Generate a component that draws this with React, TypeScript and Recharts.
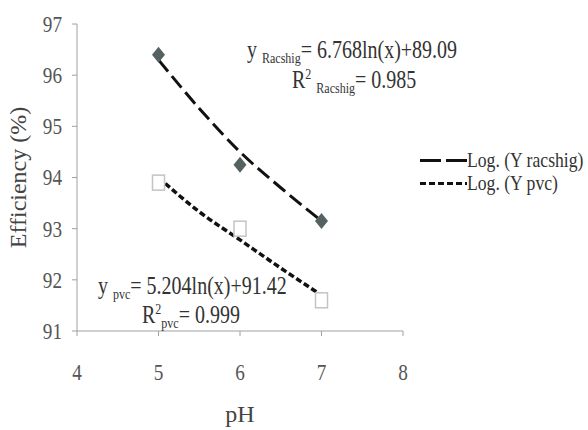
import React from "react";
import {
  ComposedChart,
  Line,
  Scatter,
  XAxis,
  YAxis,
  Label,
} from "recharts";

// ---- data ----
const phValues = [5, 6, 7];
const raschigEff = [96.4, 94.25, 93.15];
const pvcEff = [93.9, 93.0, 91.6];

// trend lines (log fits), sampled from the drawn curves
const trendPh = [5, 5.5, 6, 6.5, 7];
const raschigTrend = [96.3, 95.35, 94.5, 93.8, 93.15];
const pvcTrend = [94.0, 93.33, 92.78, 92.23, 91.7];

const xTicks = [4, 5, 6, 7, 8];
const yTicks = [91, 92, 93, 94, 95, 96, 97];

const legendItems = [
  { label: "Log. (Y racshig)", dash: "21 5" },
  { label: "Log. (Y pvc)", dash: "6 3" },
];

const FONT = "'Liberation Serif', 'Times New Roman', serif";
const SQ = 0.8; // text in the source image is horizontally squeezed

const raschigPts = phValues.map((x, i) => ({ x, y: raschigEff[i] }));
const pvcPts = phValues.map((x, i) => ({ x, y: pvcEff[i] }));
const raschigLine = trendPh.map((x, i) => ({ x, y: raschigTrend[i] }));
const pvcLine = trendPh.map((x, i) => ({ x, y: pvcTrend[i] }));

const squeeze = (x: number) =>
  `translate(${x},0) scale(${SQ},1) translate(${-x},0)`;

const XTick = (props: any) => {
  const { x, y, payload } = props;
  return (
    <text
      x={x}
      y={y}
      dy={17}
      textAnchor="middle"
      transform={squeeze(x)}
      fill="#555"
      fontSize={24}
      fontFamily={FONT}
    >
      {payload.value}
    </text>
  );
};

const YTick = (props: any) => {
  const { x, y, payload } = props;
  return (
    <text
      x={x}
      y={y}
      dy={8}
      textAnchor="end"
      transform={squeeze(x)}
      fill="#555"
      fontSize={24}
      fontFamily={FONT}
    >
      {payload.value}
    </text>
  );
};

const Diamond = (props: any) => {
  const { cx, cy } = props;
  return (
    <path
      d={`M${cx},${cy - 8} L${cx + 6.5},${cy} L${cx},${cy + 8} L${cx - 6.5},${cy} Z`}
      fill="#566262"
    />
  );
};

const Square = (props: any) => {
  const { cx, cy } = props;
  return (
    <rect
      x={cx - 6}
      y={cy - 7.5}
      width={12}
      height={15}
      fill="#fff"
      stroke="#c4c4c4"
      strokeWidth={1.5}
    />
  );
};

const txt: React.CSSProperties = {
  position: "absolute",
  fontFamily: FONT,
  fontSize: 25,
  color: "#333",
  whiteSpace: "nowrap",
  transform: `scaleX(${SQ})`,
  transformOrigin: "left center",
  lineHeight: 1,
};
const sub: React.CSSProperties = { fontSize: 15, verticalAlign: -5 };
const sup: React.CSSProperties = { fontSize: 15, verticalAlign: 9 };

export default function App() {
  return (
    <div
      style={{
        position: "absolute",
        left: 0,
        top: 0,
        width: 588,
        height: 430,
        background: "#fff",
      }}
    >
      <ComposedChart
        width={588}
        height={430}
        margin={{ top: 24, right: 185, bottom: 4, left: 0 }}
      >
        <XAxis
          type="number"
          dataKey="x"
          domain={[4, 8]}
          ticks={xTicks}
          stroke="#a0a0a0"
          tickSize={5}
          tickMargin={27}
          height={95}
          tick={<XTick />}
        >
          <Label
            value="pH"
            position="insideBottom"
            offset={4}
            fill="#444"
            fontSize={24}
            fontFamily={FONT}
          />
        </XAxis>
        <YAxis
          type="number"
          dataKey="y"
          domain={[91, 97]}
          ticks={yTicks}
          stroke="#a0a0a0"
          tickSize={5}
          tickMargin={10}
          width={77}
          tick={<YTick />}
        >
          <Label
            value="Efficiency (%)"
            angle={-90}
            position="insideLeft"
            offset={17}
            fill="#444"
            fontSize={24}
            fontFamily={FONT}
            style={{ textAnchor: "middle" }}
          />
        </YAxis>

        <Line
          data={raschigLine}
          dataKey="y"
          type="monotone"
          stroke="#111"
          strokeWidth={3}
          strokeDasharray="15 6"
          dot={false}
          isAnimationActive={false}
        />
        <Line
          data={pvcLine}
          dataKey="y"
          type="monotone"
          stroke="#111"
          strokeWidth={3.5}
          strokeDasharray="6 3"
          dot={false}
          isAnimationActive={false}
        />
        <Scatter
          data={raschigPts}
          shape={<Diamond />}
          isAnimationActive={false}
        />
        <Scatter data={pvcPts} shape={<Square />} isAnimationActive={false} />
      </ComposedChart>

      {/* fitted equations */}
      <div style={{ ...txt, left: 247, top: 37 }}>
        y <span style={sub}>Racshig</span>= 6.768ln(x)+89.09
      </div>
      <div style={{ ...txt, left: 292, top: 67 }}>
        R<span style={sup}>2</span> <span style={sub}>Racshig</span>= 0.985
      </div>
      <div style={{ ...txt, left: 98, top: 273 }}>
        y <span style={sub}>pvc</span>= 5.204ln(x)+91.42
      </div>
      <div style={{ ...txt, left: 142, top: 302 }}>
        R<span style={sup}>2</span>
        <span style={sub}>pvc</span>= 0.999
      </div>

      {/* legend */}
      {legendItems.map((item, i) => (
        <div
          key={item.label}
          style={{
            position: "absolute",
            left: 420,
            top: 150 + i * 23,
            height: 21,
            display: "flex",
            alignItems: "center",
          }}
        >
          <svg width={47} height={21} style={{ flex: "none" }}>
            <line
              x1={0}
              y1={10.5}
              x2={47}
              y2={10.5}
              stroke="#111"
              strokeWidth={3}
              strokeDasharray={item.dash}
            />
          </svg>
          <span
            style={{
              ...txt,
              position: "static",
              display: "inline-block",
              fontSize: 21,
              transform: "scaleX(0.84)",
            }}
          >
            {item.label}
          </span>
        </div>
      ))}
    </div>
  );
}
